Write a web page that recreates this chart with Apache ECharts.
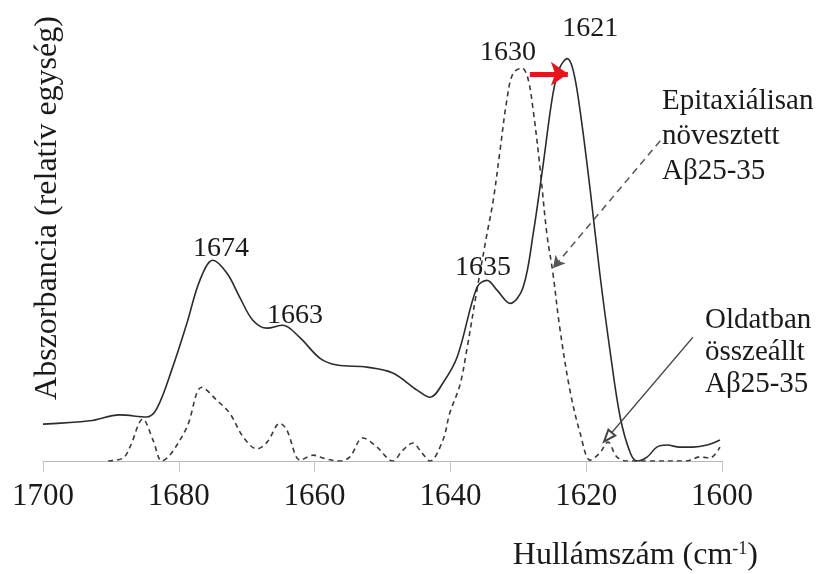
<!DOCTYPE html>
<html><head><meta charset="utf-8">
<script src="https://cdn.jsdelivr.net/npm/echarts@6/dist/echarts.min.js"></script>
<style>html,body{margin:0;padding:0;background:#fff}#c{width:822px;height:574px}</style>
</head><body><div id="c"></div>
<script>
// Wavenumber axis (reversed)
const xMin = 1600, xMax = 1700, xStep = 20;

// Epitaxially grown Aβ25-35 (solid line)
const solidWn = [1700,1693.1,1688.7,1684.7,1683.2,1680.9,1678.8,1676.9,1675.0,1672.9,1671.0,1669.1,1667.0,1664.7,1662.2,1659.2,1656.7,1652.3,1648.5,1644.9,1643.0,1641.1,1639.0,1636.1,1634.6,1633.1,1631.2,1629.3,1627.8,1626.4,1624.9,1623.9,1622.8,1621.9,1620.9,1619.4,1618.0,1616.5,1615.0,1613.5,1612.5,1611.0,1609.6,1608.1,1606.2,1604.3,1602.2,1600.3];
const solidAbs = [0.088,0.096,0.110,0.105,0.126,0.224,0.329,0.431,0.479,0.448,0.390,0.336,0.317,0.324,0.295,0.245,0.229,0.224,0.210,0.169,0.152,0.186,0.248,0.414,0.431,0.407,0.376,0.414,0.543,0.700,0.876,0.938,0.960,0.931,0.836,0.645,0.448,0.264,0.105,0.019,0.0,0.010,0.033,0.038,0.033,0.033,0.038,0.050];

// Solution-assembled Aβ25-35 (dashed line)
const dashWn = [1690.4,1688.2,1687.2,1685.3,1683.8,1682.5,1681.3,1678.8,1676.6,1674.4,1672.5,1670.5,1668.5,1667.0,1665.1,1664.1,1662.1,1660.2,1658.8,1656.3,1654.8,1652.9,1650.8,1648.5,1647.0,1645.5,1644.5,1643.0,1641.1,1640.1,1638.6,1637.6,1636.1,1634.6,1633.7,1632.7,1631.7,1630.8,1629.5,1628.6,1627.8,1626.8,1625.8,1624.9,1623.9,1622.4,1620.9,1619.4,1618.0,1616.8,1615.5,1614.0,1610.6,1605.2,1603.2,1601.8,1600.3];
const dashAbs = [0,0.007,0.033,0.100,0.050,0,0.014,0.081,0.176,0.145,0.114,0.057,0.029,0.045,0.090,0.074,0.002,0.014,0.007,0,0.010,0.055,0.033,0,0.026,0.043,0.026,0,0.050,0.114,0.181,0.264,0.407,0.543,0.621,0.740,0.860,0.924,0.938,0.914,0.836,0.700,0.543,0.448,0.319,0.169,0.067,0.002,0.019,0.045,0.010,0,0,0,0.010,0.007,0.033];

// Peak annotations
const peakText = ['1674','1663','1635','1630','1621'];
const peakWn = [1673.8,1662.9,1635.2,1631.5,1619.4];
const peakAbs = [0.507,0.348,0.462,0.974,1.031];

const FONT = 'Liberation Serif';
const solidData = solidWn.map((w,i)=>[w, solidAbs[i]]);
const dashData = dashWn.map((w,i)=>[w, dashAbs[i]]);

const chart = echarts.init(document.getElementById('c'), null, {renderer:'canvas'});
chart.setOption({
  animation: false,
  backgroundColor: '#fff',
  grid: {left: 43, right: 100, top: -1, bottom: 113, containLabel: false},
  xAxis: {
    type: 'value', inverse: true, min: xMin, max: xMax, interval: xStep,
    axisLine: {show: true, lineStyle: {color: '#b8b8b8', width: 1}},
    axisTick: {show: true, length: 11, lineStyle: {color: '#c8c8c8'}},
    splitLine: {show: false},
    axisLabel: {fontFamily: FONT, fontSize: 31, color: '#1a1a1a', margin: 20, formatter: v => String(v)}
  },
  yAxis: {
    type: 'value', min: 0, max: 1.1, show: false
  },
  series: [
    {
      type: 'line', data: solidData, showSymbol: false, smooth: 0.35,
      lineStyle: {color: '#2b2b2b', width: 1.6},
      z: 3,
      markPoint: {
        symbol: 'circle', symbolSize: 0, silent: true,
        label: {show: true, position: 'inside', formatter: '{b}', fontFamily: FONT, fontSize: 28, color: '#1a1a1a'},
        data: peakText.map((t,i)=>({name: t, coord: [peakWn[i], peakAbs[i]]}))
      },
      markLine: {
        silent: true, animation: false,
        label: {show: false},
        data: [
          [{coord: [1628.3, 0.924], symbol: 'none', lineStyle: {color: '#e8141c', width: 5, type: 'solid'}},
           {coord: [1622.7, 0.924], symbol: 'arrow', symbolSize: [18, 17]}],
          [{coord: [1609.1, 0.764], symbol: 'none', lineStyle: {color: '#555', width: 1.5, type: [7, 5]}},
           {coord: [1624.9, 0.46], symbol: 'arrow', symbolSize: [10, 12]}],
          [{coord: [1604.3, 0.295], symbol: 'none', lineStyle: {color: '#444', width: 1.5, type: 'solid'}},
           {coord: [1616.8, 0.057], symbol: 'emptyTriangle', symbolSize: [9, 12]}]
        ]
      }
    },
    {
      type: 'line', data: dashData, showSymbol: false, smooth: 0.35,
      lineStyle: {color: '#3a3a3a', width: 1.6, type: [5, 4]},
      z: 2
    }
  ],
  graphic: [
    {type: 'text', x: 48, y: 208, rotation: Math.PI/2,
     style: {text: 'Abszorbancia (relatív egység)', fontFamily: FONT, fontSize: 32, fill: '#1a1a1a', align: 'center', verticalAlign: 'middle'}},
    {type: 'text', x: 758, y: 556,
     style: {text: 'Hullámszám (cm{sup|-1})', align: 'right', verticalAlign: 'middle', fill: '#1a1a1a',
       fontFamily: FONT, fontSize: 32,
       rich: {sup: {fontFamily: FONT, fontSize: 18, verticalAlign: 'top', lineHeight: 32, fill: '#1a1a1a'}}}},
    {type: 'text', x: 662, y: 84,
     style: {text: 'Epitaxiálisan\nnövesztett\nAβ25-35', fontFamily: FONT, fontSize: 29, lineHeight: 35, fill: '#1a1a1a', align: 'left', verticalAlign: 'top'}},
    {type: 'text', x: 705, y: 304,
     style: {text: 'Oldatban\nösszeállt\nAβ25-35', fontFamily: FONT, fontSize: 29, lineHeight: 32, fill: '#1a1a1a', align: 'left', verticalAlign: 'top'}}
  ]
});
</script></body></html>
